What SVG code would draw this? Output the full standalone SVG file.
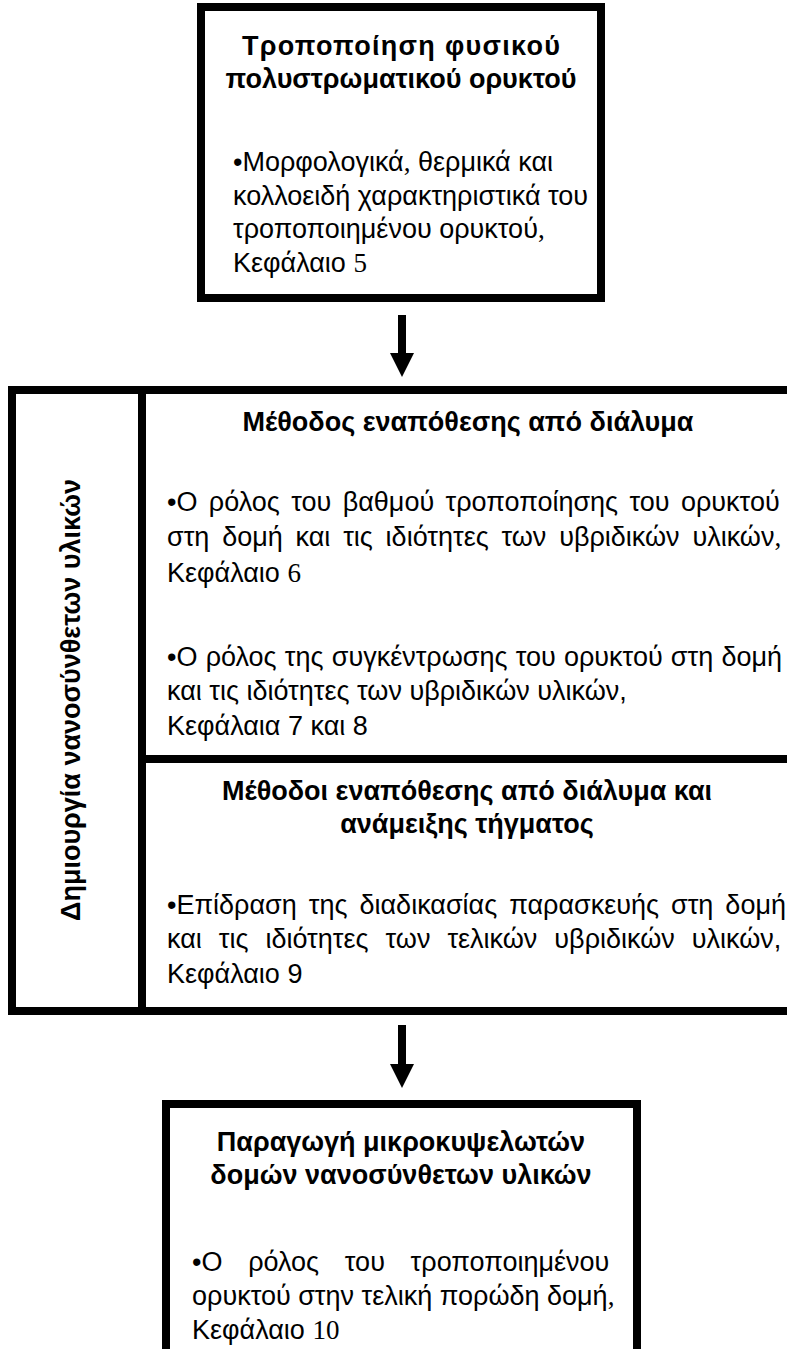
<svg xmlns="http://www.w3.org/2000/svg" width="787" height="1349" viewBox="0 0 787 1349">
<defs>
<style>
.box{fill:#fff;stroke:#000;stroke-width:8}
.t{font-family:'Liberation Sans',Arial,sans-serif;font-size:27px;fill:#000}
.b{font-weight:bold}
.c{text-anchor:middle}
.s{font-family:'Liberation Serif','Times New Roman',serif}
.con{stroke:#000;stroke-width:8;fill:none}
</style>
<marker id="ah" markerUnits="userSpaceOnUse" markerWidth="24" markerHeight="24" refX="0" refY="12" orient="auto">
<path d="M0,0 L24,12 L0,24 Z" fill="#000"/>
</marker>
</defs>
<rect width="787" height="1349" fill="#fff"/>

<g id="node-top">
<rect class="box" x="201" y="7" width="400" height="291"/>
<text class="t b c" x="401" y="55" textLength="318" lengthAdjust="spacing">Τροποποίηση φυσικού</text>
<text class="t b c" x="401" y="88">πολυστρωματικού ορυκτού</text>
<text class="t" x="233" y="171">•Μορφολογικά<tspan class="s">,</tspan> θερμικά και</text>
<text class="t" x="233" y="205">κολλοειδή χαρακτηριστικά του</text>
<text class="t" x="233" y="238">τροποποιημένου ορυκτού<tspan class="s">,</tspan></text>
<text class="t" x="233" y="272">Κεφάλαιο <tspan class="s">5</tspan></text>
</g>

<g id="node-creation">
<rect class="box" x="12" y="390" width="130" height="621"/>
<text class="t b c" transform="translate(80,700) rotate(-90)">Δημιουργία νανοσύνθετων υλικών</text>
</g>

<g id="node-solution">
<rect class="box" x="142" y="390" width="700" height="369"/>
<text class="t b c" x="468" y="431">Μέθοδος εναπόθεσης από διάλυμα</text>
<text class="t" x="167" y="511" word-spacing="3.9">•Ο ρόλος του βαθμού τροποποίησης του ορυκτού</text>
<text class="t" x="167" y="546" word-spacing="5.3">στη δομή και τις ιδιότητες των υβριδικών υλικών<tspan class="s">,</tspan></text>
<text class="t" x="167" y="582">Κεφάλαιο <tspan class="s">6</tspan></text>
<text class="t" x="167" y="666" word-spacing="0.7">•Ο ρόλος της συγκέντρωσης του ορυκτού στη δομή</text>
<text class="t" x="167" y="700">και τις ιδιότητες των υβριδικών υλικών,</text>
<text class="t" x="167" y="735">Κεφάλαια 7 και 8</text>
</g>

<g id="node-melt">
<rect class="box" x="142" y="759" width="700" height="252"/>
<text class="t b c" x="467" y="800">Μέθοδοι εναπόθεσης από διάλυμα και</text>
<text class="t b c" x="467" y="833">ανάμειξης τήγματος</text>
<text class="t" x="167" y="914" word-spacing="4.5">•Επίδραση της διαδικασίας παρασκευής στη δομή</text>
<text class="t" x="167" y="948" word-spacing="9.5">και τις ιδιότητες των τελικών υβριδικών υλικών,</text>
<text class="t" x="167" y="983">Κεφάλαιο 9</text>
</g>

<g id="node-bottom">
<rect class="box" x="166" y="1104" width="471" height="400"/>
<text class="t b c" x="401" y="1151">Παραγωγή μικροκυψελωτών</text>
<text class="t b c" x="401" y="1184">δομών νανοσύνθετων υλικών</text>
<text class="t" x="192" y="1271" word-spacing="18.2">•Ο ρόλος του τροποποιημένου</text>
<text class="t" x="192" y="1305">ορυκτού στην τελική πορώδη δομή<tspan class="s">,</tspan></text>
<text class="t" x="192" y="1339">Κεφάλαιο <tspan class="s">10</tspan></text>
</g>

<g id="connectors">
<line class="con" x1="402" y1="315" x2="402" y2="353" marker-end="url(#ah)"/>
<line class="con" x1="402" y1="1025" x2="402" y2="1064" marker-end="url(#ah)"/>
</g>
</svg>
